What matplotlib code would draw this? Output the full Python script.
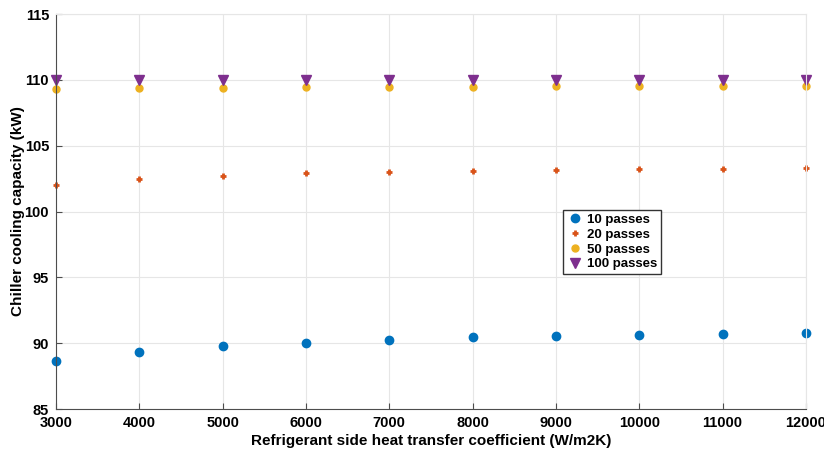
import matplotlib.pyplot as plt
import numpy as np

plt.rcParams['font.family'] = ['Liberation Sans', 'DejaVu Sans']
plt.rcParams['font.weight'] = 'bold'

h_ref = [3000, 4000, 5000, 6000, 7000, 8000, 9000, 10000, 11000, 12000]
cap_10 = [88.66, 89.37, 89.8, 90.05, 90.28, 90.45, 90.55, 90.65, 90.72, 90.8]
cap_20 = [102.02, 102.44, 102.67, 102.9, 103.0, 103.08, 103.15, 103.2, 103.23, 103.28]
cap_50 = [109.32, 109.4, 109.42, 109.45, 109.47, 109.49, 109.5, 109.51, 109.52, 109.52]
cap_100 = [110.0, 110.0, 110.0, 110.0, 110.0, 110.0, 110.0, 110.0, 110.0, 110.0]

fig = plt.figure(figsize=(8.24, 4.53), dpi=100)
ax = fig.add_axes([0.068, 0.097, 0.91, 0.872])

ax.plot(h_ref, cap_10, 'o', color='#0072BD', markersize=6, label='10 passes', clip_on=False)
ax.plot(h_ref, cap_20, '+', color='#D95319', markersize=4, markeredgewidth=2, label='20 passes', clip_on=False)
ax.plot(h_ref, cap_50, 'o', color='#EDB120', markersize=5, label='50 passes', clip_on=False)
ax.plot(h_ref, cap_100, 'v', color='#7E2F8E', markersize=7, label='100 passes', clip_on=False)

ax.set_xlim(3000, 12000)
ax.set_ylim(85, 115)
ax.set_xticks(np.arange(3000, 12001, 1000))
ax.set_yticks(np.arange(85, 116, 5))
ax.grid(True, color='#e6e6e6', linewidth=0.8)
ax.set_axisbelow(True)
ax.tick_params(labelsize=10.5, color='#4d4d4d', length=4, direction='in')
ax.tick_params(axis='y', pad=5)
ax.tick_params(axis='x', pad=5)
for lab in ax.get_xticklabels() + ax.get_yticklabels():
    lab.set_fontweight('bold')
for s in ['left', 'bottom']:
    ax.spines[s].set_color('#4d4d4d')
for s in ['top', 'right']:
    ax.spines[s].set_color('#e6e6e6')

ax.set_xlabel('Refrigerant side heat transfer coefficient (W/m2K)', fontsize=11, fontweight='bold', labelpad=3)
ax.set_ylabel('Chiller cooling capacity (kW)', fontsize=11, fontweight='bold', labelpad=0)

leg = ax.legend(loc='upper left', bbox_to_anchor=(0.676, 0.505), fontsize=9.5,
                fancybox=False, edgecolor='#333333', framealpha=1, borderaxespad=0,
                handletextpad=0.3, borderpad=0.3, labelspacing=0.2, handlelength=1.2)
for t in leg.get_texts():
    t.set_fontweight('bold')

fig.savefig('out.png', dpi=100)
